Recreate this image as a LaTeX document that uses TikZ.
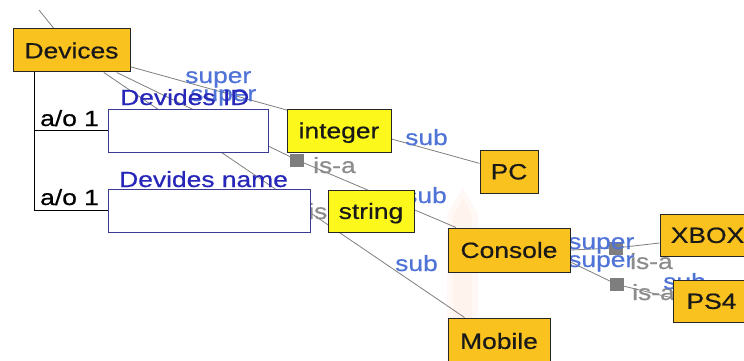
\documentclass[tikz,border=0pt]{standalone}
\usepackage{fontspec}
\setmainfont[FakeStretch=1.2, FakeBold=0.6]{Liberation Sans}
\usetikzlibrary{calc}
\pgfdeclarelayer{bg}
\pgfdeclarelayer{mid}
\pgfsetlayers{bg,mid,main}

\definecolor{classfill}{HTML}{FAC21E}
\definecolor{typefill}{HTML}{FCF81C}
\definecolor{relblue}{HTML}{4F73D6}
\definecolor{propblue}{HTML}{2626B8}
\definecolor{slotline}{HTML}{3A3A96}
\definecolor{edgegray}{HTML}{7E7E7E}
\definecolor{isagray}{HTML}{8C8C8C}

\tikzset{
  every node/.style={font=\fontsize{22}{26}\selectfont},
  boxbase/.style={draw=black!85, line width=1pt, inner sep=0pt,
    text height=15.75pt, text depth=0pt, text=black!90},
  classbox/.style={boxbase, fill=classfill},
  typebox/.style={boxbase, fill=typefill},
  slotbox/.style={draw=slotline, line width=1pt, fill=white, inner sep=0pt},
  lbl/.style={inner sep=0pt, anchor=base west},
  rellbl/.style={lbl, text=relblue},
  proplbl/.style={lbl, text=propblue},
  isalbl/.style={lbl, text=isagray},
  aolbl/.style={lbl, text=black},
  isasq/.style={fill=edgegray, inner sep=0pt, minimum width=14pt, minimum height=13pt},
  edge/.style={draw=edgegray, line width=0.8pt},
}

\begin{document}
\begin{tikzpicture}[x=1pt, y=-1pt]
\useasboundingbox (0,0) rectangle (744,361);

% slot boxes for the two properties
\node[slotbox, minimum width=160pt, minimum height=43pt] (slotid) at (188,130.5) {};
\node[slotbox, minimum width=202pt, minimum height=43pt] (slotname) at (209,210.5) {};

% classes and datatypes
\node[classbox, minimum width=117pt, minimum height=43pt] (dev) at (71.5,50.5) {Devices};
\node[typebox, minimum width=104pt, minimum height=43pt] (int) at (339,130.5) {integer};
\node[classbox, minimum width=58pt, minimum height=43pt] (pc) at (509,171.5) {PC};
\node[typebox, minimum width=86pt, minimum height=42pt] (str) at (371,211) {string};
\node[classbox, minimum width=122pt, minimum height=44pt] (con) at (509,250) {Console};
\node[classbox, minimum width=102pt, minimum height=46pt] (mob) at (499,341) {Mobile};
\node[classbox, minimum width=95pt, minimum height=42pt] (xbox) at (707.5,235) {XBOX};
\node[classbox, minimum width=77pt, minimum height=42pt] (ps4) at (711.5,301) {PS4};

% property names
\node[proplbl] (idname) at (120,105) {Devides ID};
\node[proplbl] (nmname) at (119,187) {Devides name};

% is-a markers and relation labels
\begin{pgfonlayer}{mid}
  \node[isasq] (sqa) at (297,160) {};
  \node[isasq] (sqx) at (616,248) {};
  \node[isasq] (sqp) at (617,284.5) {};

  \node[rellbl] (supa) at (185,83) {super};
  \node[rellbl] (supb) at (190,101) {super};
  \node[rellbl] (subpc) at (405,145) {sub};
  \node[rellbl] (subcon) at (404,203) {sub};
  \node[rellbl] (submob) at (395,271) {sub};
  \node[isalbl] (isaa) at (313,173) {is-a};
  \node[isalbl] (isab) at (308,219) {is-a};

  \node[rellbl] (supx) at (568,249) {super};
  \node[rellbl] (supp) at (568,267) {super};
  \node[isalbl] (isax) at (630,269) {is-a};
  \node[isalbl] (isap) at (632,300) {is-a};
  \node[rellbl] (subps) at (663,289) {sub};
\end{pgfonlayer}

% property cardinalities
\coordinate (trunk) at ($(dev.south west)+(22,0)$);
\draw[black, line width=1.2pt] (trunk) |- (slotname.west);
\draw[black, line width=1.2pt] (trunk |- slotid.west) -- (slotid.west);
\node[aolbl] (aoa) at (40,126) {a/o 1};
\node[aolbl] (aob) at (40,205) {a/o 1};

\begin{pgfonlayer}{bg}
  % faint backdrop shape
  \fill[orange!70!red, opacity=0.04]
    (447,361) -- (447,214) -- (463,188) -- (478,214) -- (478,361) -- cycle;
  \fill[orange!70!red, opacity=0.03]
    (453,361) -- (453,216) -- (463,198) -- (472,216) -- (472,361) -- cycle;

  % subclass edges
  \coordinate (offtop) at (39,10);
  \draw[edge] (offtop) -- (dev);
  \draw[edge] (dev) -- (pc);
  \draw[edge] (dev) -- (sqa.center) -- (con);
  \draw[edge] (dev) -- (mob);
  \draw[edge] (con.east) -- (sqx.center) -- ($(xbox.west)+(0,8)$);
  \draw[edge] ($(con.east)+(0,12)$) -- (sqp.center) -- ($(ps4.west)+(0,-3)$);
\end{pgfonlayer}
\end{tikzpicture}
\end{document}
